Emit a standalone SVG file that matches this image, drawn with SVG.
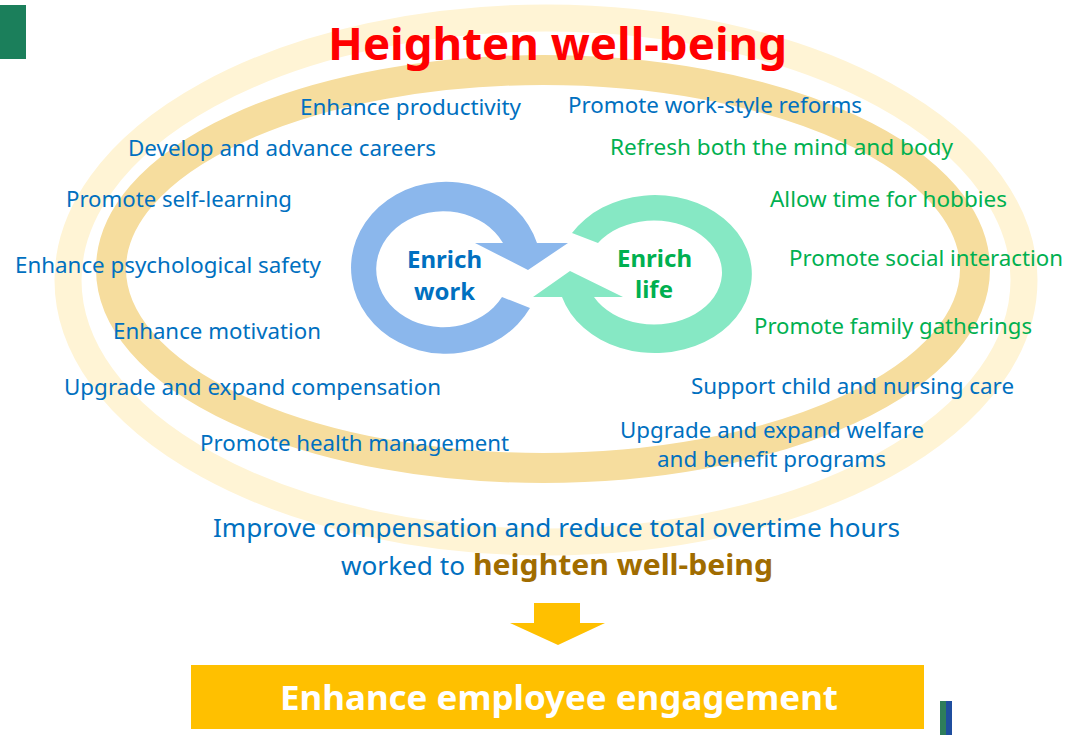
<svg xmlns="http://www.w3.org/2000/svg" width="1076" height="735" viewBox="0 0 1076 735">
  <style>
    text { font-family: "Noto Sans", "Open Sans", sans-serif; }
    .lbl { font-size: 21px; }
    .hub { font-size: 23px; font-weight: bold; }
    .sum { font-size: 26px; }
    .sum-b { font-size: 28px; font-weight: bold; fill: #A06C00; }
    .title { font-size: 44px; font-weight: bold; fill: #FF0000; }
    .goal { font-size: 34px; font-weight: bold; fill: #FFFFFF; }
    .blue { fill: #0070C0; }
    .green { fill: #00B050; }
  </style>
  <rect width="1076" height="735" fill="#FFFFFF"/>

  <!-- corner markers -->
  <rect x="0" y="5" width="26" height="54" fill="#1B7F5B"/>
  <rect x="940" y="701" width="6" height="34" fill="#2E7D5B"/>
  <rect x="946" y="701" width="6" height="34" fill="#1F4E9F"/>

  <!-- well-being rings -->
  <g id="rings" fill="none">
    <ellipse cx="546" cy="280" rx="478" ry="262" stroke="#FFF4D5" stroke-width="27"/>
    <ellipse cx="543" cy="269" rx="432" ry="199" stroke="#F6DD9E" stroke-width="30"/>
  </g>

  <g id="title">
    <text class="title" x="328" y="60" textLength="459" lengthAdjust="spacingAndGlyphs">Heighten well-being</text>
  </g>

  <!-- work / life cycle -->
  <g id="enrich-work">
    <path d="M475,243 L503,243 A67,58 0 1 0 502,297 L530,308 A95,86 0 1 1 537,243 L568,243 L528,270 Z" fill="#8BB7EC"/>
    <text class="hub blue" x="407" y="268" textLength="75" lengthAdjust="spacingAndGlyphs">Enrich</text>
    <text class="hub blue" x="414" y="300" textLength="61" lengthAdjust="spacingAndGlyphs">work</text>
  </g>
  <g id="enrich-life">
    <path d="M623,297 L594,297 A68,52 0 1 0 598,243 L572,233 A97,79 0 1 1 562,297 L533,297 L570,271 Z" fill="#86E8C4"/>
    <text class="hub green" x="617" y="267" textLength="75" lengthAdjust="spacingAndGlyphs">Enrich</text>
    <text class="hub green" x="635" y="298" textLength="38" lengthAdjust="spacingAndGlyphs">life</text>
  </g>

  <!-- work-side initiatives -->
  <g id="work-items">
    <text id="enhance-productivity" class="lbl blue" x="300" y="115" textLength="221" lengthAdjust="spacingAndGlyphs">Enhance productivity</text>
    <text id="develop-careers" class="lbl blue" x="128" y="156" textLength="308" lengthAdjust="spacingAndGlyphs">Develop and advance careers</text>
    <text id="self-learning" class="lbl blue" x="66" y="207" textLength="226" lengthAdjust="spacingAndGlyphs">Promote self-learning</text>
    <text id="psych-safety" class="lbl blue" x="15" y="273" textLength="306" lengthAdjust="spacingAndGlyphs">Enhance psychological safety</text>
    <text id="motivation" class="lbl blue" x="113" y="339" textLength="208" lengthAdjust="spacingAndGlyphs">Enhance motivation</text>
    <text id="compensation" class="lbl blue" x="64" y="395" textLength="377" lengthAdjust="spacingAndGlyphs">Upgrade and expand compensation</text>
    <text id="health" class="lbl blue" x="200" y="451" textLength="309" lengthAdjust="spacingAndGlyphs">Promote health management</text>
  </g>

  <!-- life-side initiatives -->
  <g id="life-items">
    <text id="work-style" class="lbl blue" x="568" y="113" textLength="294" lengthAdjust="spacingAndGlyphs">Promote work-style reforms</text>
    <text id="refresh" class="lbl green" x="610" y="155" textLength="343" lengthAdjust="spacingAndGlyphs">Refresh both the mind and body</text>
    <text id="hobbies" class="lbl green" x="770" y="207" textLength="237" lengthAdjust="spacingAndGlyphs">Allow time for hobbies</text>
    <text id="social" class="lbl green" x="789" y="266" textLength="274" lengthAdjust="spacingAndGlyphs">Promote social interaction</text>
    <text id="family" class="lbl green" x="754" y="334" textLength="278" lengthAdjust="spacingAndGlyphs">Promote family gatherings</text>
    <text id="child-care" class="lbl blue" x="691" y="394" textLength="323" lengthAdjust="spacingAndGlyphs">Support child and nursing care</text>
    <g id="welfare">
      <text class="lbl blue" x="620" y="438" textLength="304" lengthAdjust="spacingAndGlyphs">Upgrade and expand welfare</text>
      <text class="lbl blue" x="657" y="467" textLength="229" lengthAdjust="spacingAndGlyphs">and benefit programs</text>
    </g>
  </g>

  <g id="summary">
    <text class="sum blue" x="213" y="537" textLength="687" lengthAdjust="spacingAndGlyphs">Improve compensation and reduce total overtime hours</text>
    <text class="sum blue" x="341" y="575" textLength="124" lengthAdjust="spacingAndGlyphs">worked to</text>
    <text class="sum-b" x="473" y="575" textLength="300" lengthAdjust="spacingAndGlyphs">heighten well-being</text>
  </g>

  <g id="connectors">
    <polygon points="534,603 580,603 580,623 605,623 558,645 510,623 534,623" fill="#FFC000"/>
  </g>

  <g id="engagement">
    <rect x="191" y="665" width="733" height="64" fill="#FFC000"/>
    <text class="goal" x="280" y="710" textLength="558" lengthAdjust="spacingAndGlyphs">Enhance employee engagement</text>
  </g>
</svg>
